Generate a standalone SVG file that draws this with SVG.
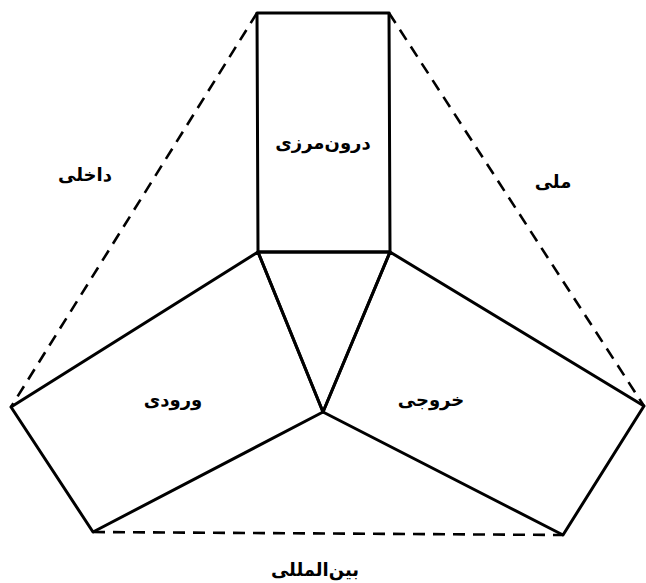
<svg xmlns="http://www.w3.org/2000/svg" width="646" height="583" viewBox="0 0 646 583">
<style>
.s{fill:none;stroke:#000;stroke-width:3;stroke-linejoin:round;stroke-linecap:round}
.d{fill:none;stroke:#000;stroke-width:2.6;stroke-dasharray:12 8}
.t{font-family:"DejaVu Sans","Noto Sans",sans-serif;font-weight:bold;font-size:18px;text-anchor:middle;fill:#000}
</style>
<rect width="646" height="583" fill="#fff"/>
<g id="connectors">
<line class="d" x1="257" y1="13" x2="11" y2="407"/>
<line class="d" x1="389" y1="13" x2="644" y2="406"/>
<line class="d" x1="93" y1="532" x2="563" y2="535"/>
</g>
<g id="node-top"><polygon class="s" points="257,13 389,13 390,252 258,252"/><text class="t" x="323" y="149">درون‌مرزی</text></g>
<g id="node-center"><polygon class="s" points="258,252 390,252 323,412"/></g>
<g id="node-left"><polygon class="s" points="258,252 11,407 93,532 323,412"/><text class="t" x="173" y="406">ورودی</text></g>
<g id="node-right"><polygon class="s" points="390,252 644,406 563,535 323,412"/><text class="t" x="431" y="406">خروجی</text></g>
<g id="label-dakheli"><text class="t" x="85" y="181">داخلی</text></g>
<g id="label-melli"><text class="t" x="553" y="188">ملی</text></g>
<g id="label-beinolmelali"><text class="t" x="315" y="576">بین‌المللی</text></g>
</svg>
